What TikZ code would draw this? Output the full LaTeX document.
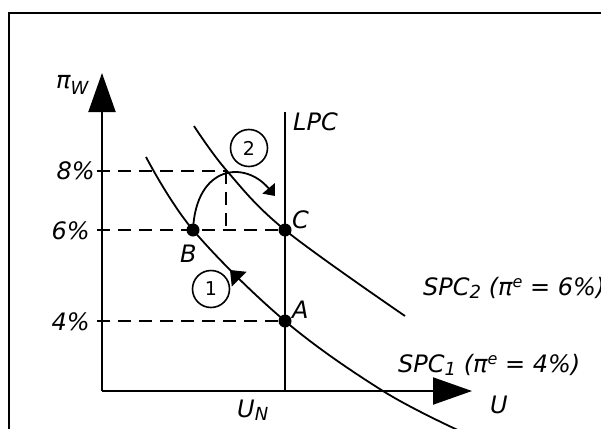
\documentclass[tikz,border=0pt]{standalone}
\usepackage{fontspec}
\setmainfont{DejaVu Sans}
\usetikzlibrary{arrows.meta}
\newcommand{\lsub}[2][3pt]{\raisebox{-#1}{\fontsize{18}{18}\selectfont #2}}
\newcommand{\lsup}[1]{\raisebox{8pt}{\fontsize{16}{16}\selectfont #1}}
\begin{document}
\begin{tikzpicture}[x=1pt,y=-1pt,
  lbl/.style={inner sep=0pt,font=\fontsize{24}{28}\selectfont\itshape},
  axis/.style={line width=2pt,-{Triangle[length=39pt,width=27pt]}},
  thin/.style={line width=2pt},
  curve/.style={line width=1.8pt},
  guide/.style={line width=2pt,dash pattern=on 13pt off 8pt},
  dot/.style={circle,fill=black,inner sep=0pt,minimum size=13pt},
  num/.style={circle,draw,line width=1.6pt,minimum size=37pt,inner sep=0pt,font=\fontsize{19}{22}\selectfont}]
\useasboundingbox (0,0) rectangle (601,428);
% frame
\draw[thin] (9,445) -- (9,13) -- (615,13);
% axes
\coordinate (O) at (102,391);
\coordinate (ytip) at (102,73);
\coordinate (xtip) at (472,391);
\draw[axis] (O) -- (ytip);
\draw[axis] (O) -- (xtip);
% LPC
\coordinate (lpctop) at (285,112);
\coordinate (lpcbot) at (285,391);
\draw[thin] (lpctop) -- (lpcbot);
% dashed guides
\coordinate (t8) at (97,171);
\coordinate (p8) at (226,171);
\coordinate (p8b) at (226,230);
\coordinate (t6) at (97,230);
\coordinate (t4) at (97,321);
\coordinate (Bp) at (193,230);
\coordinate (Cp) at (285,230);
\coordinate (Ap) at (285,321);
\draw[guide] (t8) -- (p8);
\draw[guide] (p8) -- (p8b);
\draw[guide] (t6) -- (Cp);
\draw[guide] (t4) -- (Ap);
% curves
\draw[curve] plot[smooth,tension=0.6] coordinates {(146,157) (193,230) (285,321) (383,391) (462,432)};
\draw[curve] plot[smooth,tension=0.6] coordinates {(194,126) (227,171) (285,230) (405,316)};
% arc with arrow
\coordinate (arcend) at (275,196);
\draw[curve,-{Triangle[length=10pt,width=16pt]}] (Bp) .. controls (196,165) and (245,160) .. (arcend);
% arrow on SPC1
\fill (230,270) -- (246.6,271.8) -- (231.8,286.6) -- cycle;
% points
\node[dot] (B) at (Bp) {};
\node[dot] (C) at (Cp) {};
\node[dot] (A) at (Ap) {};
% labels
\node[lbl,anchor=base west] (piw) at (56,88) {π\lsub[6pt]{W}};
\node[lbl,anchor=base east] (l8) at (95,179) {8\%};
\node[lbl,anchor=base east] (l6) at (90,239) {6\%};
\node[lbl,anchor=base east] (l4) at (90,330) {4\%};
\node[lbl,anchor=base west] (lpc) at (293,130) {LPC};
\node[lbl,anchor=base west] (lc) at (292,228) {C};
\node[lbl,anchor=base west] (lb) at (180,262) {B};
\node[lbl,anchor=base west] (la) at (292,318) {A};
\node[lbl,anchor=base west] (lun) at (237,417) {U\lsub{N}};
\node[lbl,anchor=base west] (lu) at (490,413) {U};
\node[lbl,anchor=base west] (spc2) at (423,295) {SPC\lsub{2} (π\lsup{e} = 6\%)};
\node[lbl,anchor=base west] (spc1) at (398,372) {SPC\lsub{1} (π\lsup{e} = 4\%)};
\node[num] (n2) at (249,148) {2};
\node[num] (n1) at (211,289) {1};
\end{tikzpicture}
\end{document}
